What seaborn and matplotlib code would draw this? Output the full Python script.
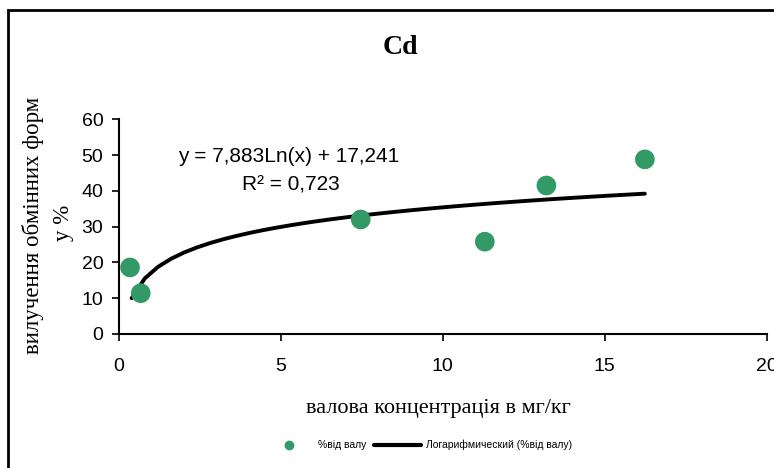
import numpy as np
import pandas as pd
import seaborn as sns
import matplotlib.pyplot as plt
from matplotlib.lines import Line2D
from matplotlib.patches import Rectangle

# values
conc = [0.35, 0.68, 7.47, 11.3, 13.2, 16.24]      # валова концентрація, мг/кг
share = [18.6, 11.4, 32.0, 25.8, 41.5, 48.8]      # % від валу
# logarithmic trend as printed on the chart
slope, intercept = 7.883, 17.241
r2_text = '0,723'

df = pd.DataFrame({'x': conc, 'y': share})

# trend line over the data range
trend = pd.DataFrame({'x': np.linspace(0.4, max(conc), 40)})
trend['y'] = slope * np.log(trend['x']) + intercept

sns.set_style('ticks')
plt.rcParams['font.family'] = ['Liberation Sans', 'DejaVu Sans']
plt.rcParams['text.color'] = 'black'

W, H = 774, 468


def fx(px):
    return px / W


def fy(py):
    return 1 - py / H


fig = plt.figure(figsize=(7.74, 4.68), dpi=100)
ax = fig.add_axes([fx(118.7), fy(334), 648 / W, 214.7 / H])

green = '#339966'
sns.lineplot(data=trend, x='x', y='y', ax=ax, color='black', linewidth=2.8)
sns.scatterplot(data=df, x='x', y='y', ax=ax, color=green, s=200, edgecolor='none', zorder=3)

ax.set_xlim(0, 20)
ax.set_ylim(0, 60)
ax.set_xticks([0, 5, 10, 15, 20])
ax.set_yticks(range(0, 61, 10))
ax.tick_params(labelsize=14, direction='out', length=5, width=1.2, colors='black')
ax.tick_params(axis='x', pad=12.5)
ax.tick_params(axis='y', pad=6)
for s in ['top', 'right']:
    ax.spines[s].set_visible(False)
for s in ['left', 'bottom']:
    ax.spines[s].set_linewidth(1.5)
    ax.spines[s].set_color('black')
ax.set_xlabel('')
ax.set_ylabel('')

# equation text
fig.text(fx(289), fy(157), 'y = 7,883Ln(x) + 17,241', fontsize=15,
         ha='center', va='center')
fig.text(fx(291), fy(185), 'R² = ' + r2_text, fontsize=15,
         ha='center', va='center')

serif = ['Liberation Serif', 'DejaVu Serif']
fig.text(fx(400), fy(48), 'Cd', fontsize=20, fontweight='bold',
         family=serif, ha='center', va='center')
fig.text(fx(438), fy(408), 'валова концентрація в мг/кг', fontsize=16,
         family=serif, ha='center', va='center')
fig.text(fx(33), fy(225), 'вилучення обмінних форм', fontsize=16.5,
         family=serif, ha='center', va='center', rotation=90)
fig.text(fx(63), fy(223), 'у %', fontsize=16.5,
         family=serif, ha='center', va='center', rotation=90)

# outer frame
fig.patches.append(Rectangle((fx(8), -0.1), 1.2, fy(10) + 0.1,
                             transform=fig.transFigure, fill=False,
                             edgecolor='black', linewidth=2))

handles = [Line2D([], [], marker='o', linestyle='none', color=green, markersize=6),
           Line2D([], [], color='black', linewidth=3)]
fig.legend(handles, ['%від валу', 'Логарифмический (%від валу)'],
           loc='center', bbox_to_anchor=(fx(419), fy(445)), ncol=2,
           frameon=False, fontsize=7.5, handlelength=4.5, columnspacing=0.8,
           handletextpad=0.5)

fig.savefig('out.png', dpi=100)
